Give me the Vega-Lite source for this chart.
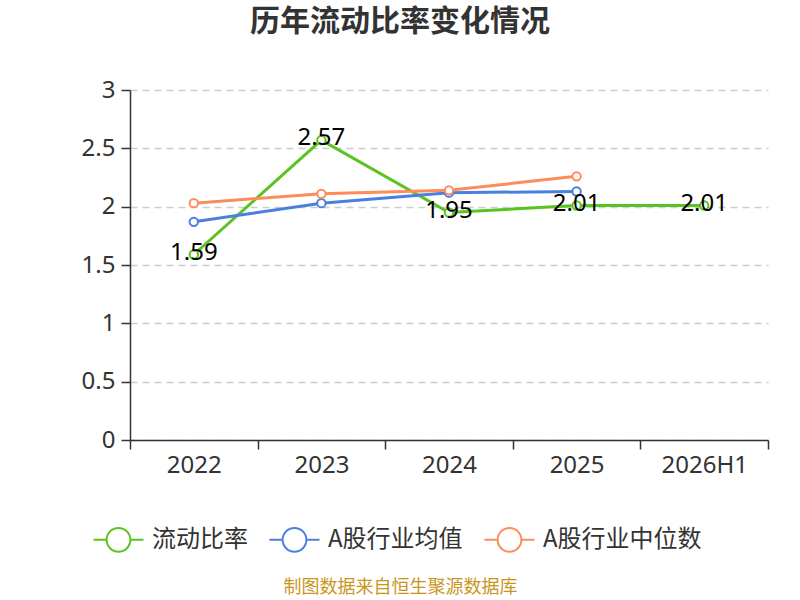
{
  "$schema": "https://vega.github.io/schema/vega-lite/v6.json",
  "autosize": "none",
  "width": 638,
  "height": 350,
  "padding": {"left": 130, "top": 90, "right": 32, "bottom": 160},
  "background": "white",
  "config": {
    "font": "Noto Sans CJK SC",
    "view": {"stroke": null}
  },
  "title": {
    "text": "历年流动比率变化情况",
    "fontSize": 30,
    "fontWeight": "bold",
    "color": "#333333",
    "anchor": "middle",
    "frame": "group",
    "dx": -49,
    "offset": 41
  },
  "data": {
    "values": [
      {"year": "2022", "series": "流动比率", "value": 1.59},
      {"year": "2023", "series": "流动比率", "value": 2.57},
      {"year": "2024", "series": "流动比率", "value": 1.95},
      {"year": "2025", "series": "流动比率", "value": 2.01},
      {"year": "2026H1", "series": "流动比率", "value": 2.01},
      {"year": "2022", "series": "A股行业均值", "value": 1.87},
      {"year": "2023", "series": "A股行业均值", "value": 2.03},
      {"year": "2024", "series": "A股行业均值", "value": 2.12},
      {"year": "2025", "series": "A股行业均值", "value": 2.13},
      {"year": "2022", "series": "A股行业中位数", "value": 2.03},
      {"year": "2023", "series": "A股行业中位数", "value": 2.11},
      {"year": "2024", "series": "A股行业中位数", "value": 2.14},
      {"year": "2025", "series": "A股行业中位数", "value": 2.26}
    ]
  },
  "encoding": {
    "x": {
      "field": "year",
      "type": "nominal",
      "sort": null,
      "scale": {"type": "band", "paddingInner": 0, "paddingOuter": 0},
      "axis": {
        "title": "制图数据来自恒生聚源数据库",
        "titleColor": "#c8961e",
        "titleFontSize": 18,
        "titleFontWeight": "normal",
        "titleX": 270,
        "titleY": 147,
        "titleAlign": "center",
        "titleBaseline": "middle",
        "labelAngle": 0,
        "labelFont": "Noto Sans",
        "labelFontSize": 24,
        "labelColor": "#333333",
        "labelPadding": 4,
        "tickBand": "extent",
        "tickSize": 9,
        "tickWidth": 1.5,
        "tickColor": "#333333",
        "domainColor": "#333333",
        "domainWidth": 1.5,
        "grid": false
      }
    },
    "y": {
      "field": "value",
      "type": "quantitative",
      "scale": {"domain": [0, 3]},
      "axis": {
        "title": null,
        "values": [0, 0.5, 1, 1.5, 2, 2.5, 3],
        "format": "~g",
        "labelFont": "Noto Sans",
        "labelFontSize": 24,
        "labelColor": "#333333",
        "labelPadding": 6,
        "tickSize": 9,
        "tickWidth": 1.5,
        "tickColor": "#333333",
        "domainColor": "#333333",
        "domainWidth": 1.5,
        "grid": true,
        "gridColor": "#cccccc",
        "gridDash": [7, 5],
        "gridWidth": 1.3
      }
    },
    "color": {
      "field": "series",
      "type": "nominal",
      "scale": {
        "domain": ["流动比率", "A股行业均值", "A股行业中位数"],
        "range": ["#5ac31f", "#4a7fe0", "#fd8c5a"]
      },
      "legend": {
        "title": null,
        "orient": "none",
        "direction": "horizontal",
        "legendX": -25,
        "legendY": 436,
        "labelFontSize": 24,
        "labelColor": "#333333",
        "symbolType": "M-2,0H-0.95M0.95,0H2M-0.95,0A0.95,0.95 0 1,0 0.95,0A0.95,0.95 0 1,0 -0.95,0",
        "symbolSize": 625,
        "symbolStrokeWidth": 2,
        "symbolFillColor": "white",
        "columnPadding": 17,
        "labelOffset": 20
      }
    }
  },
  "layer": [
    {
      "mark": {"type": "line", "strokeWidth": 3}
    },
    {
      "mark": {"type": "point", "filled": false, "fill": "white", "size": 70, "strokeWidth": 2, "opacity": 1}
    },
    {
      "transform": [{"filter": "datum.series === '流动比率'"}],
      "mark": {"type": "text", "font": "Noto Sans", "fontSize": 24, "align": "center", "baseline": "middle", "dy": -2},
      "encoding": {
        "text": {"field": "value", "type": "quantitative", "format": ".2f"},
        "color": {"value": "black"}
      }
    }
  ]
}
